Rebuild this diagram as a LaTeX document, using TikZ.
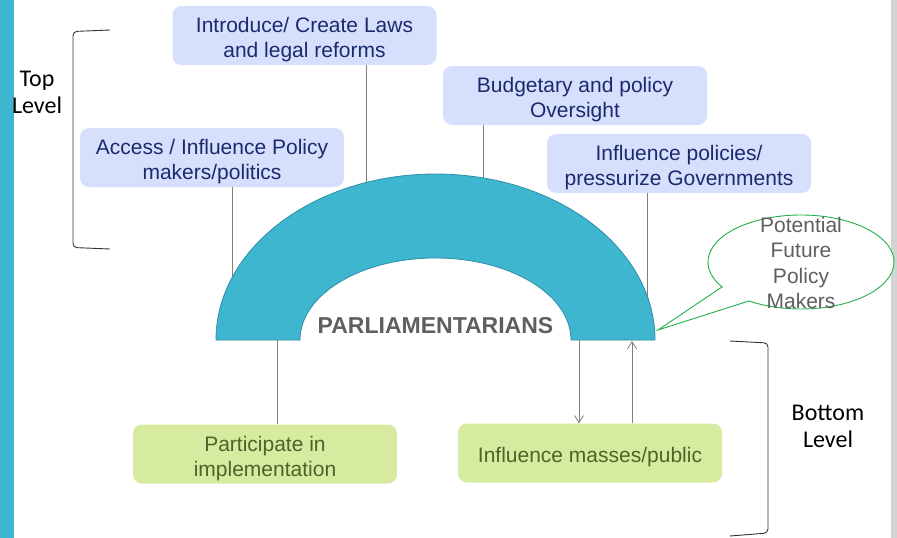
\documentclass[tikz,border=0pt]{standalone}
\usepackage{fontspec}
\setmainfont{Liberation Sans}
\newfontfamily\levelfont{Carlito}
\usepackage{xcolor}
\definecolor{archblue}{HTML}{3EB6CF}
\definecolor{archedge}{HTML}{2E8FA6}
\definecolor{boxblue}{HTML}{D6E0FC}
\definecolor{boxnavy}{HTML}{1B2A6E}
\definecolor{boxgreen}{HTML}{D7EBA0}
\definecolor{boxolive}{HTML}{4F6228}
\definecolor{linegrey}{HTML}{7F7F7F}
\definecolor{callgreen}{HTML}{22B04B}
\definecolor{textgrey}{HTML}{5F5F5F}
\newcommand{\boxfont}{\fontsize{21}{25}\selectfont}
\newcommand{\boxlift}{\rule{0pt}{24pt}}
\usetikzlibrary{arrows.meta}
\usetikzlibrary{positioning}

\begin{document}
\begin{tikzpicture}[x=1pt, y=-1pt,
    topbox/.style={fill=boxblue, rounded corners=9, minimum width=264, minimum height=59,
      align=center, text=boxnavy, font=\boxfont, inner sep=2},
    lowbox/.style={topbox, fill=boxgreen, text=boxolive},
    link/.style={draw=linegrey, line width=0.8pt},
    bracket/.style={draw=black!80, line width=0.9pt, rounded corners=4},
    >={Straight Barb[length=7pt,width=9pt]}]

    \useasboundingbox (0,0) rectangle (897,538);
    \fill [archblue] (0,0) rectangle (14,538);
    \fill [black!17] (891,0) rectangle (897,538);

    % top level
    \node [topbox] (laws) at (304.5,35.5) {\boxlift Introduce/ Create Laws\\and legal reforms};
    \node [topbox] (budget) at (575,95.5) {\boxlift Budgetary and policy\\Oversight};
    \node [topbox] (access) at (212,157.5) {\boxlift Access / Influence Policy\\makers/politics};
    \node [topbox] (govts) at (679,163.5) {\boxlift Influence policies/\\pressurize Governments};

    \coordinate (a1) at (366,220);
    \coordinate (a2) at (483,220);
    \coordinate (a3) at (232,310);
    \coordinate (a4) at (647,310);
    \draw [link] (a1 |- laws.south) -- (a1);
    \draw [link] (a2 |- budget.south) -- (a2);
    \draw [link] (a3 |- access.south) -- (a3);
    \draw [link] (a4 |- govts.south) -- (a4);

    % the arch
    \draw [fill=archblue, draw=archedge, line width=0.8pt]
      (216,340) arc [start angle=180, end angle=360, x radius=219.5, y radius=166]
      -- (571,340) arc [start angle=360, end angle=180, x radius=135.5, y radius=82] -- cycle;
    \node [text=textgrey, font=\fontsize{23}{27}\selectfont\bfseries] (parl) at (435.5,326) {PARLIAMENTARIANS};

    % bottom level
    \node [lowbox] (impl) at (265,454) {\boxlift Participate in\\implementation};
    \node [lowbox] (mass) at (590,453) {\boxlift Influence masses/public};

    \coordinate (b1) at (277,340);
    \coordinate (b2) at (579,340);
    \coordinate (b3) at (632,341);
    \draw [link] (b1) -- (b1 |- impl.north);
    \draw [link, ->] (b2) -- (b2 |- mass.north);
    \draw [link, ->] (b3 |- mass.north) -- (b3);

    % callout
    \draw [callgreen, line width=0.9pt, fill=white]
      (722.1,286.9) arc [start angle=148, end angle=484, x radius=93, y radius=47]
      -- (658,330) -- cycle;
    \node [text=textgrey, align=center, font=\fontsize{21}{25.5}\selectfont] (future) at (801,263)
      {Potential\\Future\\Policy\\Makers};

    % levels
    \draw [bracket] (110,30) -- (73,31.5) -- (73,247.5) -- (110,249);
    \node [align=center, font=\levelfont\fontsize{24}{27}\selectfont] (toplvl) at (37,92) {Top\\Level};
    \draw [bracket] (730,341) -- (768,343) -- (768,533) -- (730,536);
    \node [align=center, font=\levelfont\fontsize{24}{27}\selectfont] (botlvl) at (828,426) {Bottom\\Level};

\end{tikzpicture}
\end{document}
